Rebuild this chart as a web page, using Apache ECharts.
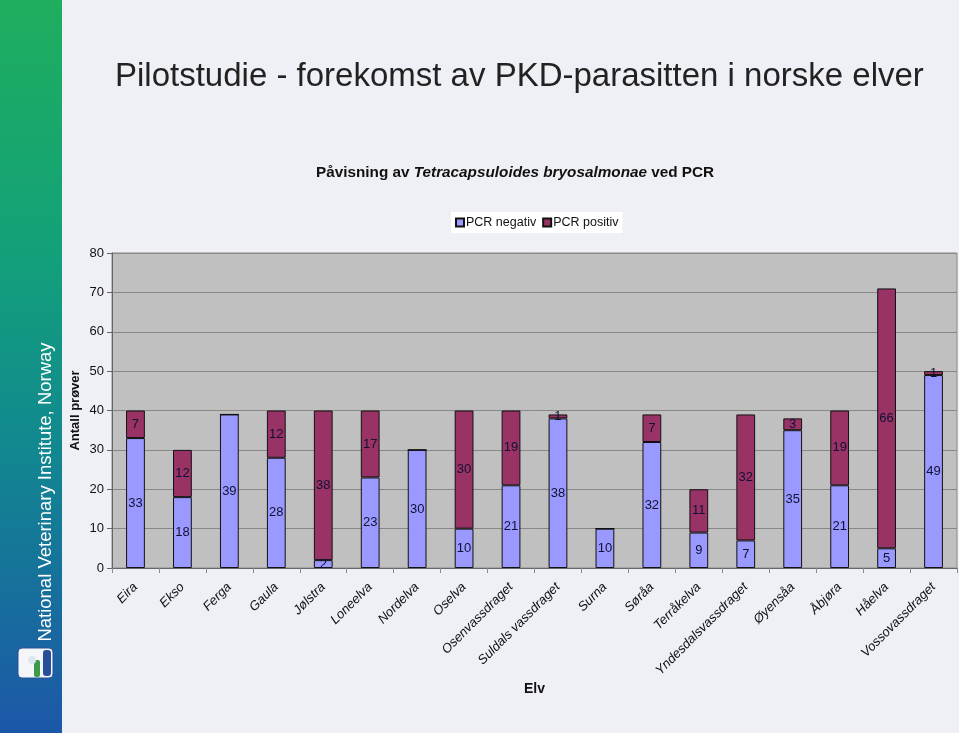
<!DOCTYPE html>
<html><head><meta charset="utf-8">
<script src="https://cdn.jsdelivr.net/npm/echarts@6/dist/echarts.min.js"></script>
<style>html,body{margin:0;padding:0;background:#eff0f6;}#c{width:959px;height:733px;}</style>
</head><body><div id="c"></div>
<script>
const categories = ['Eira','Ekso','Ferga','Gaula','Jølstra','Loneelva','Nordelva','Oselva','Osenvassdraget','Suldals vassdraget','Surna','Søråa','Terråkelva','Yndesdalsvassdraget','Øyensåa','Åbjøra','Håelva','Vossovassdraget'];
const pcrNegativ = [33,18,39,28,2,23,30,10,21,38,10,32,9,7,35,21,5,49];
const pcrPositiv = [7,12,0,12,38,17,0,30,19,1,0,7,11,32,3,19,66,1];
const yTicks = {min:0, max:80, interval:10};

const chart = echarts.init(document.getElementById('c'));
const lbl = {show:true, position:'inside', fontSize:13, fontFamily:'Liberation Sans', color:'#111133',
  formatter: p => p.value === 0 ? '' : p.value};
chart.setOption({
  backgroundColor:'#eff0f6',
  animation:false,
  title:[
    {text:'Pilotstudie - forekomst av PKD-parasitten i norske elver', left:110, top:55,
     textStyle:{fontFamily:'Liberation Sans', fontWeight:'normal', fontSize:33, color:'#222'}},
    {text:'{b|Påvisning av }{i|Tetracapsuloides bryosalmonae}{b| ved PCR}', left:311, top:160,
     textStyle:{rich:{b:{fontFamily:'Liberation Sans', fontWeight:'bold', fontSize:15.3, color:'#111'},
                      i:{fontFamily:'Liberation Sans', fontWeight:'bold', fontStyle:'italic', fontSize:15.3, color:'#111'}}}}
  ],
  legend:{left:451, top:212, backgroundColor:'#fff', padding:[4,4,4,4], itemGap:6,
    itemWidth:8, itemHeight:8, icon:'rect',
    textStyle:{fontFamily:'Liberation Sans', fontSize:12.5, color:'#111', padding:[0,0,0,-3]},
    data:['PCR negativ','PCR positiv']},
  grid:{left:112, right:2, top:253, bottom:165, show:true, backgroundColor:'#c0c0c0', borderColor:'#8a8a8a', borderWidth:1},
  xAxis:{type:'category', data:categories, name:'Elv', nameLocation:'middle', nameGap:114,
    nameTextStyle:{fontFamily:'Liberation Sans', fontWeight:'bold', fontSize:14, color:'#111'},
    axisLine:{lineStyle:{color:'#666'}}, axisTick:{show:true, lineStyle:{color:'#888'}},
    axisLabel:{rotate:45, interval:0, fontStyle:'italic', fontFamily:'Liberation Sans', fontSize:13, color:'#111', margin:17}},
  yAxis:{type:'value', min:yTicks.min, max:yTicks.max, interval:yTicks.interval,
    name:'Antall prøver', nameLocation:'middle', nameGap:30, nameRotate:90, nameMoveOverlap:false,
    nameTextStyle:{fontFamily:'Liberation Sans', fontWeight:'bold', fontSize:13, color:'#111'},
    axisLine:{show:true, lineStyle:{color:'#666'}}, axisTick:{show:true, lineStyle:{color:'#666'}},
    splitLine:{lineStyle:{color:'#888', width:1}},
    axisLabel:{fontFamily:'Liberation Sans', fontSize:13, color:'#111', margin:8}},
  series:[
    {name:'PCR negativ', type:'bar', stack:'a', data:pcrNegativ, barWidth:'40%',
     itemStyle:{color:'#9999ff', borderColor:'#111', borderWidth:1}, label:lbl},
    {name:'PCR positiv', type:'bar', stack:'a', data:pcrPositiv, barWidth:'40%',
     itemStyle:{color:'#993366', borderColor:'#111', borderWidth:1}, label:lbl}
  ],
  graphic:[
    {type:'rect', left:0, top:0, z:-1, shape:{width:62, height:733},
     style:{fill:new echarts.graphic.LinearGradient(0,0,0,1,[
       {offset:0, color:'#1fae5e'},{offset:0.35, color:'#13a07a'},{offset:0.6, color:'#11898f'},{offset:1, color:'#1c57a8'}])}},
    {type:'text', x:46, y:492, rotation:Math.PI/2, z:5,
     style:{text:'National Veterinary Institute, Norway', fill:'#fff', font:'18.5px "Liberation Sans"', align:'center', verticalAlign:'middle'}},
    {type:'rect', x:18, y:648, z:5, shape:{width:35, height:30, r:4}, style:{fill:'#f4f6fa', stroke:'#2a4f9a', lineWidth:1}},
    {type:'rect', x:43, y:650, z:6, shape:{width:8, height:26, r:3}, style:{fill:'#2a4f9a'}},
    {type:'rect', x:34, y:660, z:6, shape:{width:6, height:17, r:2}, style:{fill:'#3c9a4a'}},
    {type:'circle', x:32, y:660, z:6, shape:{r:4}, style:{fill:'#dfe6ee'}}
  ]
});
</script></body></html>
